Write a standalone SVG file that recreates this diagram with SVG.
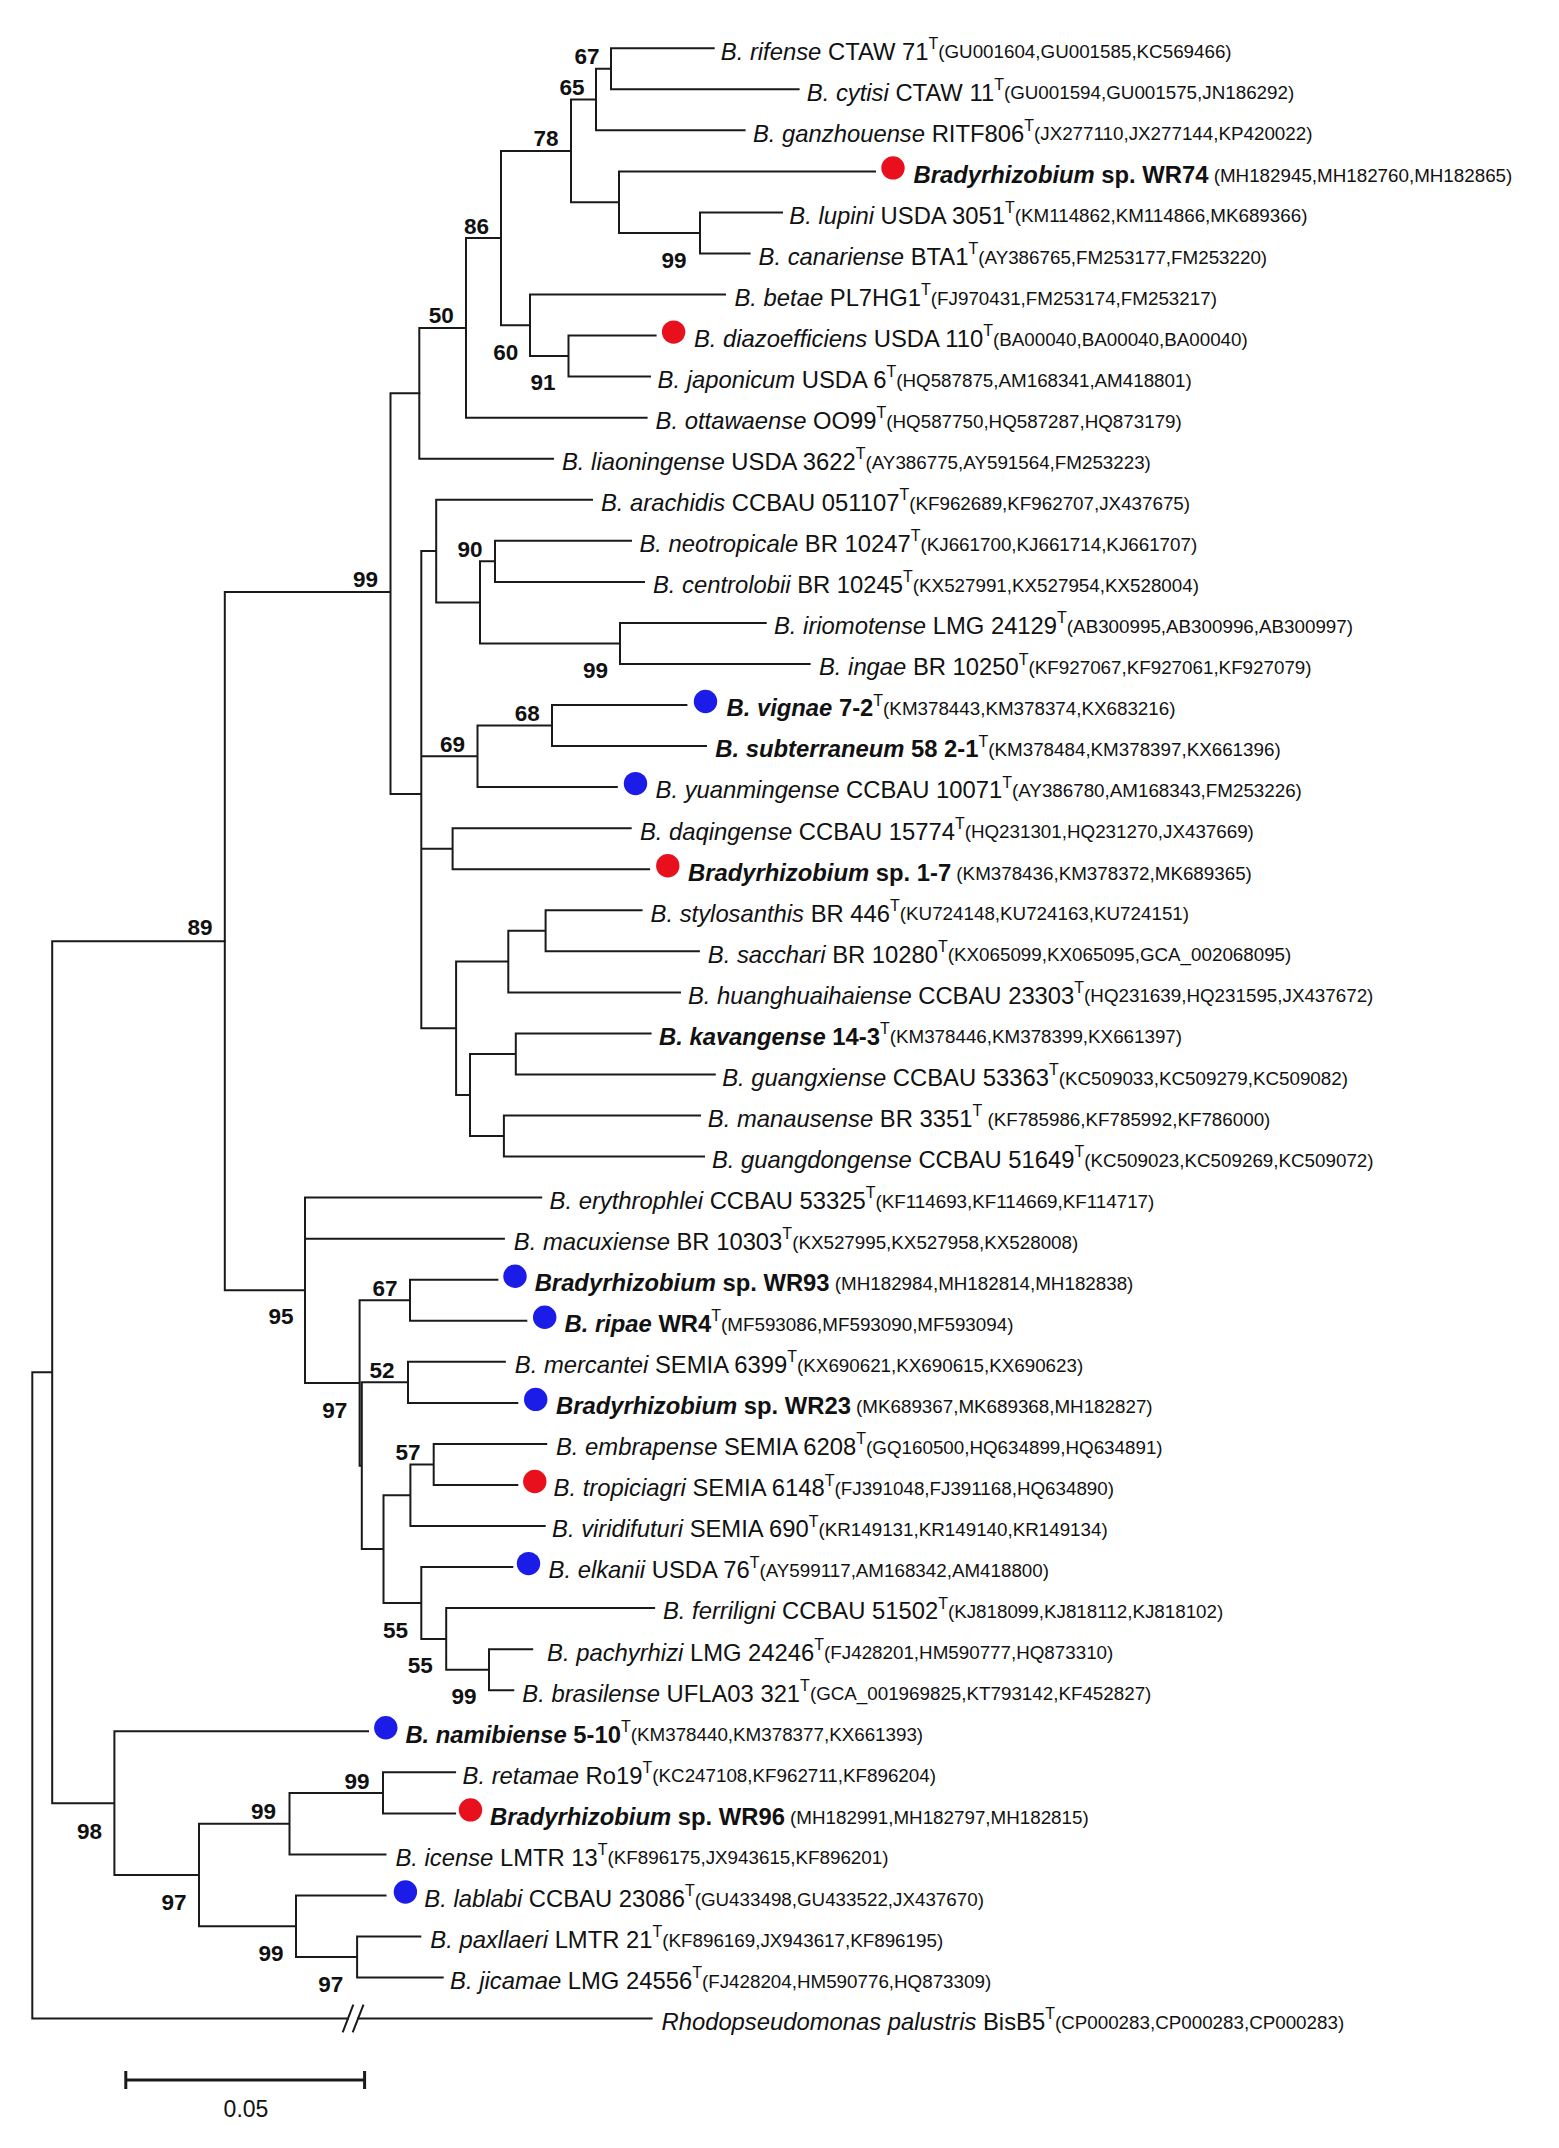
<svg xmlns="http://www.w3.org/2000/svg" width="1559" height="2148" viewBox="0 0 1559 2148">
<style>
.t{font-family:"Liberation Sans",Arial,sans-serif;font-size:23.8px;fill:#111}
.i{font-style:italic}
.b{font-weight:bold}
.sup{font-size:16px;font-weight:normal;font-style:normal}
.acc{font-size:18.8px;font-weight:normal;font-style:normal}
.bs{font-family:"Liberation Sans",Arial,sans-serif;font-size:22.5px;font-weight:bold;fill:#111;text-anchor:middle}
.red{fill:#e8101c}
.blue{fill:#1c1ce8}
.br{fill:none;stroke:#1a1a1a;stroke-width:2;stroke-linecap:square}
</style>
<rect width="1559" height="2148" fill="#fff"/>
<g id="connectors" class="br">
<path d="M713.7 48.2H611V89.3H798.6 M611 68.8H596V130.3H744.6 M782 212.4H700V253.5H749.6 M875 171.4H619V233H700 M596 99.5H571V202.2H619 M655.6 335.6H568.5V376.6H650 M725 294.5H530V356.1H568.5 M571 150.9H501V325.3H530 M501 238.1H466V417.7H646.6 M466 327.9H419.3V458.7H553"/>
<path d="M631 540.8H495V581.9H644 M765.7 622.9H620V664H809.6 M495 561.3H480V643.4H620 M592 499.8H436.2V602.4H480 M686.4 705H552V746.1H706 M552 725.5H477.5V787.1H616.8 M630.7 828.2H452.6V869.2H649.1 M641.6 910.3H545.6V951.3H698.9 M545.6 930.8H508.3V992.4H680 M650.6 1033.4H515.8V1074.5H714.8 M700 1115.5H503.9V1156.6H704 M515.8 1054H470V1136.1H503.9 M508.3 961.6H456.1V1095H470 M436.2 551.1H421.3V1028.3H456.1 M421.3 756.3H477.5 M421.3 848.7H452.6 M419.3 393.3H390.5V794H421.3 M390.5 592H224.8V1290.3H305"/>
<path d="M497.4 1279.7H410V1320.8H526.3 M504.9 1361.8H408V1402.9H517.3 M546.2 1443.9H433.7V1485H517.3 M433.7 1464.4H410.4V1526H544.7 M532.2 1649.2H489V1690.2H513.3 M654.1 1608.1H446.2V1669.7H489 M512.3 1567.1H421.3V1638.9H446.2 M410.4 1495.2H383.5V1603H421.3 M408 1382.3H361.8V1549.1H383.5 M410 1300.2H359.6V1465.7H361.8 M541.2 1197.6H305V1383H359.6 M305 1238.7H503.9"/>
<path d="M455.1 1772.3H383V1813.4H455.1 M383 1792.9H289.5V1854.4H385.5 M420.3 1936.5H357.1V1977.6H442.7 M385.5 1895.5H296V1957.1H357.1 M289.5 1823.7H199V1926.3H296 M368 1731.3H114.4V1875H199 M224.8 941.2H52.2V1803.2H114.4 M52.2 1372.2H32.3V2018.6H348 M358 2018.6H651.6"/>
<path d="M342.7 2032.3L353.3 2004.7 M352.7 2032.3L363.5 2004.7" stroke-linecap="butt"/>
</g>
<g id="bootstrap">
<text class="bs" x="587" y="63.8">67</text>
<text class="bs" x="572" y="94.8">65</text>
<text class="bs" x="546" y="146.4">78</text>
<text class="bs" x="476.5" y="233.6">86</text>
<text class="bs" x="674" y="268">99</text>
<text class="bs" x="441.2" y="323.1">50</text>
<text class="bs" x="505.8" y="360">60</text>
<text class="bs" x="543" y="390.3">91</text>
<text class="bs" x="365.6" y="586.9">99</text>
<text class="bs" x="470" y="556.6">90</text>
<text class="bs" x="595.4" y="678">99</text>
<text class="bs" x="527.2" y="720.8">68</text>
<text class="bs" x="452.6" y="751.9">69</text>
<text class="bs" x="200" y="935.1">89</text>
<text class="bs" x="281" y="1324.4">95</text>
<text class="bs" x="385" y="1296">67</text>
<text class="bs" x="382" y="1377.6">52</text>
<text class="bs" x="334.8" y="1418">97</text>
<text class="bs" x="407.9" y="1459.7">57</text>
<text class="bs" x="395.4" y="1637.7">55</text>
<text class="bs" x="420.3" y="1672.7">55</text>
<text class="bs" x="464.1" y="1704.1">99</text>
<text class="bs" x="89.5" y="1838.7">98</text>
<text class="bs" x="174.1" y="1910.3">97</text>
<text class="bs" x="263.6" y="1819.4">99</text>
<text class="bs" x="357.1" y="1789">99</text>
<text class="bs" x="271.1" y="1961">99</text>
<text class="bs" x="330.8" y="1991.8">97</text>
</g>
<g id="leaf-rifense"><text class="t" x="720.8" y="59.5"><tspan class="i">B. rifense</tspan> CTAW 71<tspan class="sup" dy="-10.8">T</tspan><tspan class="acc" dy="9.5">(GU001604,GU001585,KC569466)</tspan></text></g>
<g id="leaf-cytisi"><text class="t" x="806.8" y="100.6"><tspan class="i">B. cytisi</tspan> CTAW 11<tspan class="sup" dy="-10.8">T</tspan><tspan class="acc" dy="9.5">(GU001594,GU001575,JN186292)</tspan></text></g>
<g id="leaf-ganzhouense"><text class="t" x="753" y="141.6"><tspan class="i">B. ganzhouense</tspan> RITF806<tspan class="sup" dy="-10.8">T</tspan><tspan class="acc" dy="9.5">(JX277110,JX277144,KP420022)</tspan></text></g>
<g id="leaf-WR74"><circle class="red" cx="893" cy="167.9" r="11.7"/><text class="t" x="913.6" y="182.7"><tspan class="b i">Bradyrhizobium</tspan><tspan class="b"> sp. WR74</tspan><tspan class="acc" dy="-1"> (MH182945,MH182760,MH182865)</tspan></text></g>
<g id="leaf-lupini"><text class="t" x="789.3" y="223.7"><tspan class="i">B. lupini</tspan> USDA 3051<tspan class="sup" dy="-10.8">T</tspan><tspan class="acc" dy="9.5">(KM114862,KM114866,MK689366)</tspan></text></g>
<g id="leaf-canariense"><text class="t" x="758.6" y="264.8"><tspan class="i">B. canariense</tspan> BTA1<tspan class="sup" dy="-10.8">T</tspan><tspan class="acc" dy="9.5">(AY386765,FM253177,FM253220)</tspan></text></g>
<g id="leaf-betae"><text class="t" x="734.5" y="305.8"><tspan class="i">B. betae</tspan> PL7HG1<tspan class="sup" dy="-10.8">T</tspan><tspan class="acc" dy="9.5">(FJ970431,FM253174,FM253217)</tspan></text></g>
<g id="leaf-diazoefficiens"><circle class="red" cx="673.6" cy="332.1" r="11.7"/><text class="t" x="693.9" y="346.9"><tspan class="i">B. diazoefficiens</tspan> USDA 110<tspan class="sup" dy="-10.8">T</tspan><tspan class="acc" dy="9.5">(BA00040,BA00040,BA00040)</tspan></text></g>
<g id="leaf-japonicum"><text class="t" x="657.6" y="387.9"><tspan class="i">B. japonicum</tspan> USDA 6<tspan class="sup" dy="-10.8">T</tspan><tspan class="acc" dy="9.5">(HQ587875,AM168341,AM418801)</tspan></text></g>
<g id="leaf-ottawaense"><text class="t" x="655.6" y="429"><tspan class="i">B. ottawaense</tspan> OO99<tspan class="sup" dy="-10.8">T</tspan><tspan class="acc" dy="9.5">(HQ587750,HQ587287,HQ873179)</tspan></text></g>
<g id="leaf-liaoningense"><text class="t" x="562" y="470"><tspan class="i">B. liaoningense</tspan> USDA 3622<tspan class="sup" dy="-10.8">T</tspan><tspan class="acc" dy="9.5">(AY386775,AY591564,FM253223)</tspan></text></g>
<g id="leaf-arachidis"><text class="t" x="600.9" y="511.1"><tspan class="i">B. arachidis</tspan> CCBAU 051107<tspan class="sup" dy="-10.8">T</tspan><tspan class="acc" dy="9.5">(KF962689,KF962707,JX437675)</tspan></text></g>
<g id="leaf-neotropicale"><text class="t" x="639.5" y="552.1"><tspan class="i">B. neotropicale</tspan> BR 10247<tspan class="sup" dy="-10.8">T</tspan><tspan class="acc" dy="9.5">(KJ661700,KJ661714,KJ661707)</tspan></text></g>
<g id="leaf-centrolobii"><text class="t" x="653" y="593.2"><tspan class="i">B. centrolobii</tspan> BR 10245<tspan class="sup" dy="-10.8">T</tspan><tspan class="acc" dy="9.5">(KX527991,KX527954,KX528004)</tspan></text></g>
<g id="leaf-iriomotense"><text class="t" x="774" y="634.2"><tspan class="i">B. iriomotense</tspan> LMG 24129<tspan class="sup" dy="-10.8">T</tspan><tspan class="acc" dy="9.5">(AB300995,AB300996,AB300997)</tspan></text></g>
<g id="leaf-ingae"><text class="t" x="819" y="675.3"><tspan class="i">B. ingae</tspan> BR 10250<tspan class="sup" dy="-10.8">T</tspan><tspan class="acc" dy="9.5">(KF927067,KF927061,KF927079)</tspan></text></g>
<g id="leaf-vignae"><circle class="blue" cx="705.5" cy="701.5" r="11.7"/><text class="t" x="726.5" y="716.3"><tspan class="b i">B. vignae</tspan><tspan class="b"> 7-2</tspan><tspan class="sup" dy="-10.8">T</tspan><tspan class="acc" dy="9.5">(KM378443,KM378374,KX683216)</tspan></text></g>
<g id="leaf-subterraneum"><text class="t" x="715.3" y="757.4"><tspan class="b i">B. subterraneum</tspan><tspan class="b"> 58 2-1</tspan><tspan class="sup" dy="-10.8">T</tspan><tspan class="acc" dy="9.5">(KM378484,KM378397,KX661396)</tspan></text></g>
<g id="leaf-yuanmingense"><circle class="blue" cx="635.5" cy="783.6" r="11.7"/><text class="t" x="655.6" y="798.4"><tspan class="i">B. yuanmingense</tspan> CCBAU 10071<tspan class="sup" dy="-10.8">T</tspan><tspan class="acc" dy="9.5">(AY386780,AM168343,FM253226)</tspan></text></g>
<g id="leaf-daqingense"><text class="t" x="640" y="839.5"><tspan class="i">B. daqingense</tspan> CCBAU 15774<tspan class="sup" dy="-10.8">T</tspan><tspan class="acc" dy="9.5">(HQ231301,HQ231270,JX437669)</tspan></text></g>
<g id="leaf-sp1-7"><circle class="red" cx="667.8" cy="865.7" r="11.7"/><text class="t" x="688" y="880.5"><tspan class="b i">Bradyrhizobium</tspan><tspan class="b"> sp. 1-7</tspan><tspan class="acc" dy="-1"> (KM378436,KM378372,MK689365)</tspan></text></g>
<g id="leaf-stylosanthis"><text class="t" x="650.6" y="921.6"><tspan class="i">B. stylosanthis</tspan> BR 446<tspan class="sup" dy="-10.8">T</tspan><tspan class="acc" dy="9.5">(KU724148,KU724163,KU724151)</tspan></text></g>
<g id="leaf-sacchari"><text class="t" x="707.8" y="962.6"><tspan class="i">B. sacchari</tspan> BR 10280<tspan class="sup" dy="-10.8">T</tspan><tspan class="acc" dy="9.5">(KX065099,KX065095,GCA_002068095)</tspan></text></g>
<g id="leaf-huanghuaihaiense"><text class="t" x="688" y="1003.7"><tspan class="i">B. huanghuaihaiense</tspan> CCBAU 23303<tspan class="sup" dy="-10.8">T</tspan><tspan class="acc" dy="9.5">(HQ231639,HQ231595,JX437672)</tspan></text></g>
<g id="leaf-kavangense"><text class="t" x="659" y="1044.7"><tspan class="b i">B. kavangense</tspan><tspan class="b"> 14-3</tspan><tspan class="sup" dy="-10.8">T</tspan><tspan class="acc" dy="9.5">(KM378446,KM378399,KX661397)</tspan></text></g>
<g id="leaf-guangxiense"><text class="t" x="722.2" y="1085.8"><tspan class="i">B. guangxiense</tspan> CCBAU 53363<tspan class="sup" dy="-10.8">T</tspan><tspan class="acc" dy="9.5">(KC509033,KC509279,KC509082)</tspan></text></g>
<g id="leaf-manausense"><text class="t" x="707.8" y="1126.8"><tspan class="i">B. manausense</tspan> BR 3351<tspan class="sup" dy="-10.8">T</tspan><tspan class="acc" dy="9.5"> (KF785986,KF785992,KF786000)</tspan></text></g>
<g id="leaf-guangdongense"><text class="t" x="712" y="1167.9"><tspan class="i">B. guangdongense</tspan> CCBAU 51649<tspan class="sup" dy="-10.8">T</tspan><tspan class="acc" dy="9.5">(KC509023,KC509269,KC509072)</tspan></text></g>
<g id="leaf-erythrophlei"><text class="t" x="549.6" y="1208.9"><tspan class="i">B. erythrophlei</tspan> CCBAU 53325<tspan class="sup" dy="-10.8">T</tspan><tspan class="acc" dy="9.5">(KF114693,KF114669,KF114717)</tspan></text></g>
<g id="leaf-macuxiense"><text class="t" x="513.8" y="1250"><tspan class="i">B. macuxiense</tspan> BR 10303<tspan class="sup" dy="-10.8">T</tspan><tspan class="acc" dy="9.5">(KX527995,KX527958,KX528008)</tspan></text></g>
<g id="leaf-WR93"><circle class="blue" cx="515" cy="1276.2" r="11.7"/><text class="t" x="534.7" y="1291"><tspan class="b i">Bradyrhizobium</tspan><tspan class="b"> sp. WR93</tspan><tspan class="acc" dy="-1"> (MH182984,MH182814,MH182838)</tspan></text></g>
<g id="leaf-ripae"><circle class="blue" cx="544.7" cy="1317.3" r="11.7"/><text class="t" x="564.5" y="1332.1"><tspan class="b i">B. ripae</tspan><tspan class="b"> WR4</tspan><tspan class="sup" dy="-10.8">T</tspan><tspan class="acc" dy="9.5">(MF593086,MF593090,MF593094)</tspan></text></g>
<g id="leaf-mercantei"><text class="t" x="514.8" y="1373.1"><tspan class="i">B. mercantei</tspan> SEMIA 6399<tspan class="sup" dy="-10.8">T</tspan><tspan class="acc" dy="9.5">(KX690621,KX690615,KX690623)</tspan></text></g>
<g id="leaf-WR23"><circle class="blue" cx="535.7" cy="1399.4" r="11.7"/><text class="t" x="556" y="1414.2"><tspan class="b i">Bradyrhizobium</tspan><tspan class="b"> sp. WR23</tspan><tspan class="acc" dy="-1"> (MK689367,MK689368,MH182827)</tspan></text></g>
<g id="leaf-embrapense"><text class="t" x="556" y="1455.2"><tspan class="i">B. embrapense</tspan> SEMIA 6208<tspan class="sup" dy="-10.8">T</tspan><tspan class="acc" dy="9.5">(GQ160500,HQ634899,HQ634891)</tspan></text></g>
<g id="leaf-tropiciagri"><circle class="red" cx="534.8" cy="1481.5" r="11.7"/><text class="t" x="553.6" y="1496.3"><tspan class="i">B. tropiciagri</tspan> SEMIA 6148<tspan class="sup" dy="-10.8">T</tspan><tspan class="acc" dy="9.5">(FJ391048,FJ391168,HQ634890)</tspan></text></g>
<g id="leaf-viridifuturi"><text class="t" x="552.1" y="1537.3"><tspan class="i">B. viridifuturi</tspan> SEMIA 690<tspan class="sup" dy="-10.8">T</tspan><tspan class="acc" dy="9.5">(KR149131,KR149140,KR149134)</tspan></text></g>
<g id="leaf-elkanii"><circle class="blue" cx="528.5" cy="1563.6" r="11.7"/><text class="t" x="548.6" y="1578.4"><tspan class="i">B. elkanii</tspan> USDA 76<tspan class="sup" dy="-10.8">T</tspan><tspan class="acc" dy="9.5">(AY599117,AM168342,AM418800)</tspan></text></g>
<g id="leaf-ferriligni"><text class="t" x="663" y="1619.4"><tspan class="i">B. ferriligni</tspan> CCBAU 51502<tspan class="sup" dy="-10.8">T</tspan><tspan class="acc" dy="9.5">(KJ818099,KJ818112,KJ818102)</tspan></text></g>
<g id="leaf-pachyrhizi"><text class="t" x="547.1" y="1660.5"><tspan class="i">B. pachyrhizi</tspan> LMG 24246<tspan class="sup" dy="-10.8">T</tspan><tspan class="acc" dy="9.5">(FJ428201,HM590777,HQ873310)</tspan></text></g>
<g id="leaf-brasilense"><text class="t" x="522.3" y="1701.5"><tspan class="i">B. brasilense</tspan> UFLA03 321<tspan class="sup" dy="-10.8">T</tspan><tspan class="acc" dy="9.5">(GCA_001969825,KT793142,KF452827)</tspan></text></g>
<g id="leaf-namibiense"><circle class="blue" cx="385.8" cy="1727.8" r="11.7"/><text class="t" x="405.4" y="1742.6"><tspan class="b i">B. namibiense</tspan><tspan class="b"> 5-10</tspan><tspan class="sup" dy="-10.8">T</tspan><tspan class="acc" dy="9.5">(KM378440,KM378377,KX661393)</tspan></text></g>
<g id="leaf-retamae"><text class="t" x="462.6" y="1783.6"><tspan class="i">B. retamae</tspan> Ro19<tspan class="sup" dy="-10.8">T</tspan><tspan class="acc" dy="9.5">(KC247108,KF962711,KF896204)</tspan></text></g>
<g id="leaf-WR96"><circle class="red" cx="470.5" cy="1809.9" r="11.7"/><text class="t" x="490" y="1824.7"><tspan class="b i">Bradyrhizobium</tspan><tspan class="b"> sp. WR96</tspan><tspan class="acc" dy="-1"> (MH182991,MH182797,MH182815)</tspan></text></g>
<g id="leaf-icense"><text class="t" x="395.4" y="1865.7"><tspan class="i">B. icense</tspan> LMTR 13<tspan class="sup" dy="-10.8">T</tspan><tspan class="acc" dy="9.5">(KF896175,JX943615,KF896201)</tspan></text></g>
<g id="leaf-lablabi"><circle class="blue" cx="405.4" cy="1892" r="11.7"/><text class="t" x="424.3" y="1906.8"><tspan class="i">B. lablabi</tspan> CCBAU 23086<tspan class="sup" dy="-10.8">T</tspan><tspan class="acc" dy="9.5">(GU433498,GU433522,JX437670)</tspan></text></g>
<g id="leaf-paxllaeri"><text class="t" x="430.3" y="1947.8"><tspan class="i">B. paxllaeri</tspan> LMTR 21<tspan class="sup" dy="-10.8">T</tspan><tspan class="acc" dy="9.5">(KF896169,JX943617,KF896195)</tspan></text></g>
<g id="leaf-jicamae"><text class="t" x="450.1" y="1988.9"><tspan class="i">B. jicamae</tspan> LMG 24556<tspan class="sup" dy="-10.8">T</tspan><tspan class="acc" dy="9.5">(FJ428204,HM590776,HQ873309)</tspan></text></g>
<g id="leaf-rhodopseudomonas"><text class="t" x="661.5" y="2029.9"><tspan class="i">Rhodopseudomonas palustris</tspan> BisB5<tspan class="sup" dy="-10.8">T</tspan><tspan class="acc" dy="9.5">(CP000283,CP000283,CP000283)</tspan></text></g>
<g id="scale-bar">
<path d="M125.8 2080H364.6 M125.8 2071V2089 M364.6 2071V2089" fill="none" stroke="#1a1a1a" stroke-width="3"/>
<text class="t" x="246" y="2116.5" text-anchor="middle" style="font-size:23px">0.05</text>
</g>
</svg>
